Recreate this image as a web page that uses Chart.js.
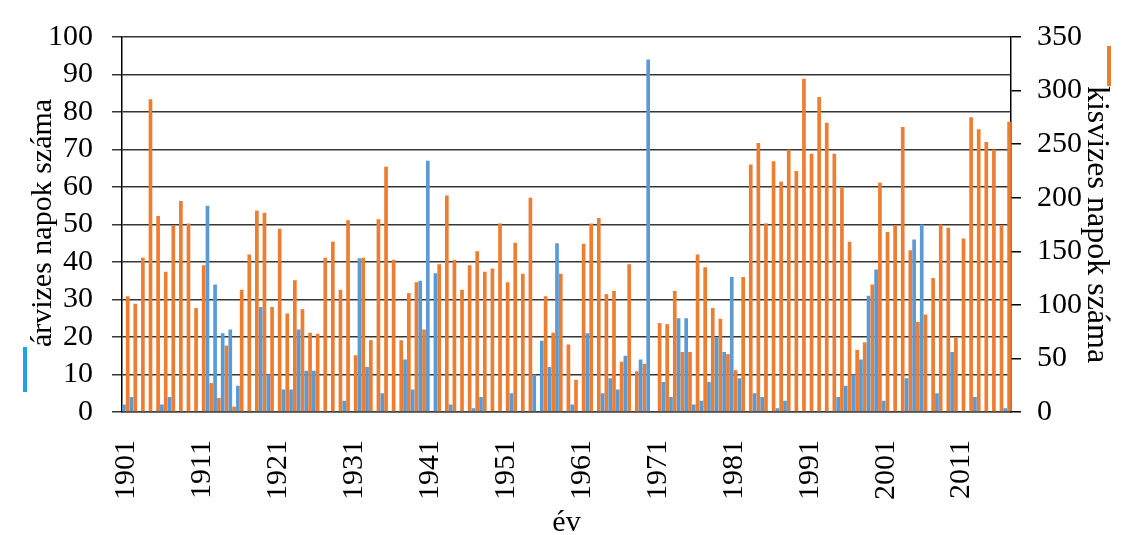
<!DOCTYPE html>
<html lang="hu">
<head>
<meta charset="utf-8">
<title>Árvizes és kisvizes napok száma</title>
<script src="https://cdn.jsdelivr.net/npm/chart.js@4/dist/chart.umd.min.js"></script>
<style>
  body { margin: 0; background: #fff; }
  #keret { width: 1126px; height: 535px; position: relative; }
</style>
</head>
<body>
<div id="keret"><canvas id="grafikon"></canvas></div>
<script>
// Évek 1901-től 2017-ig
const elsoEv = 1901;
const utolsoEv = 2017;
const evek = [];
for (let ev = elsoEv; ev <= utolsoEv; ev++) {
  evek.push(String(ev));
}

// Árvizes napok száma (bal tengely)
const arvizesNapok = [
  2, 4, 0, 0, 0, 2, 4, 0, 0, 0,
  0, 55, 34, 21, 22, 7, 0, 0, 28, 10,
  0, 6, 6, 22, 11, 11, 0, 0, 0, 3,
  0, 41, 12, 0, 5, 0, 0, 14, 6, 35,
  67, 37, 0, 2, 0, 0, 1, 4, 0, 0,
  0, 5, 0, 0, 10, 19, 12, 45, 0, 2,
  0, 21, 0, 5, 9, 6, 15, 0, 14, 94,
  0, 8, 4, 25, 25, 2, 3, 8, 20, 16,
  36, 9, 0, 5, 4, 0, 1, 3, 0, 0,
  0, 0, 0, 0, 4, 7, 10, 14, 31, 38,
  3, 0, 0, 9, 46, 50, 0, 5, 0, 16,
  0, 0, 4, 0, 0, 0, 1
];

// Kisvizes napok száma (jobb tengely)
const kisvizesNapok = [
  108, 101, 144, 292, 183, 131, 174, 197, 176, 97,
  137, 27, 13, 62, 5, 114, 147, 188, 186, 98,
  171, 92, 123, 96, 74, 73, 144, 159, 114, 179,
  53, 144, 67, 180, 229, 142, 67, 111, 121, 77,
  0, 138, 202, 142, 114, 137, 150, 131, 134, 176,
  121, 158, 129, 200, 0, 108, 74, 129, 63, 30,
  157, 176, 181, 110, 113, 47, 138, 38, 45, 0,
  83, 82, 113, 56, 56, 147, 135, 97, 87, 54,
  39, 126, 231, 251, 176, 234, 215, 245, 225, 311,
  241, 294, 270, 241, 209, 159, 58, 65, 119, 214,
  168, 174, 266, 151, 84, 91, 125, 175, 172, 70,
  162, 275, 264, 252, 245, 174, 271
];

const csalad = "'Liberation Serif', 'Times New Roman', serif";
const betu = { family: csalad, size: 30 };

// Bal tengelycím és a két rövid színes jelölő a tengelycímek mellett
const tengelyCimek = {
  id: "tengelyCimek",
  afterDraw(chart) {
    const ctx = chart.ctx;
    const terulet = chart.chartArea;
    ctx.save();
    ctx.translate(43, terulet.top + 186);
    ctx.rotate(-Math.PI / 2);
    ctx.font = "30px " + csalad;
    ctx.fillStyle = "#000";
    ctx.textAlign = "center";
    ctx.textBaseline = "middle";
    ctx.fillText("árvizes napok száma", 0, 0);
    ctx.restore();

    ctx.save();
    ctx.fillStyle = "#1fa5dc";
    ctx.fillRect(23, terulet.bottom - 65, 4, 45);
    ctx.fillStyle = "#ed7d31";
    ctx.fillRect(1107, terulet.top + 9, 4, 40);
    ctx.restore();
  }
};

const adatok = {
  labels: evek,
  datasets: [
    {
      label: "árvizes napok száma",
      data: arvizesNapok,
      backgroundColor: "#5b9bd5",
      yAxisID: "y",
      categoryPercentage: 1,
      barPercentage: 0.97
    },
    {
      label: "kisvizes napok száma",
      data: kisvizesNapok,
      backgroundColor: "#ed7d31",
      yAxisID: "y1",
      categoryPercentage: 1,
      barPercentage: 0.97
    }
  ]
};

const beallitas = {
  type: "bar",
  data: adatok,
  plugins: [tengelyCimek],
  options: {
    responsive: true,
    maintainAspectRatio: false,
    animation: false,
    layout: { padding: { top: 23, left: 0, right: 0, bottom: 0 } },
    plugins: {
      legend: { display: false },
      tooltip: { enabled: false }
    },
    scales: {
      x: {
        afterFit: (s) => { s.height = 123; },
        grid: { display: false },
        border: { display: true, color: "#404040", width: 1.5 },
        ticks: {
          autoSkip: false,
          maxRotation: 90,
          minRotation: 90,
          padding: 20,
          color: "#000",
          font: betu,
          callback: (ertek, i) => (i % 10 === 0 ? evek[i] : "")
        },
        title: {
          display: true,
          text: "év",
          color: "#000",
          font: { family: csalad, size: 30, lineHeight: 0.8 },
          padding: { top: 0, bottom: 0 }
        }
      },
      y: {
        position: "left",
        min: 0,
        max: 100,
        afterFit: (s) => { s.width = 122; },
        grid: { color: "#363636", lineWidth: 1.5, tickLength: 10 },
        border: { display: true, color: "#000", width: 1.5 },
        ticks: { stepSize: 10, autoSkip: false, padding: 19, color: "#000", font: betu }
      },
      y1: {
        position: "right",
        min: 0,
        max: 350,
        afterFit: (s) => { s.width = 115; },
        grid: { drawOnChartArea: false, color: "#000", lineWidth: 1.5, tickLength: 10 },
        border: { display: true, color: "#000", width: 1.5 },
        ticks: { stepSize: 50, autoSkip: false, padding: 16, color: "#000", font: betu },
        title: {
          display: true,
          text: "kisvizes napok száma",
          color: "#000",
          font: { family: csalad, size: 32 },
          padding: { top: 10, bottom: 0 }
        }
      }
    }
  }
};

new Chart(document.querySelector("#grafikon"), beallitas);
</script>
</body>
</html>
